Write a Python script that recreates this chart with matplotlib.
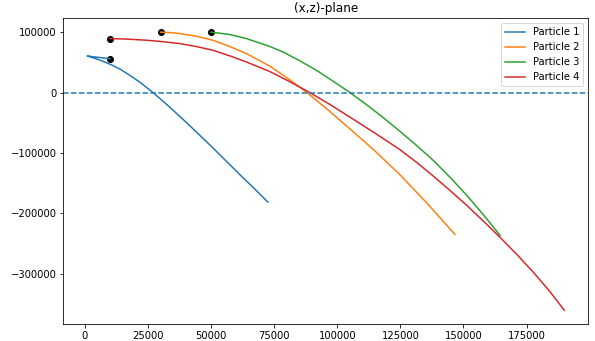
import matplotlib
matplotlib.use("Agg")
import matplotlib.pyplot as plt

# trayectorias (x, z)
x_p1 = [10000, 1000, 3500, 6000, 8500, 11000, 14000, 17700, 22000, 27000, 32000,
        37500, 44000, 50700, 56000, 61300, 67000, 72500]
z_p1 = [56000, 60500, 57300, 53700, 49600, 45000, 38700, 29000, 16500, 0, -18000,
        -39000, -64500, -91500, -113500, -135500, -158500, -181300]

x_p2 = [30000, 33500, 37500, 44000, 50700, 57000, 64000, 73200, 81100, 88000, 96000,
        104900, 114500, 124800, 135500, 146600]
z_p2 = [100000, 99500, 97800, 93500, 86700, 77000, 64600, 44000, 21500, 0, -27500,
        -59700, -95000, -136000, -183000, -234900]

x_p3 = [50000, 57000, 64000, 73200, 78500, 85000, 91700, 98300, 105000, 111600, 118200,
        124800, 131400, 138000, 144600, 151300, 157900, 164500]
z_p3 = [100000, 96500, 89500, 76500, 67300, 53000, 37000, 19000, 0, -20000, -41400,
        -64200, -87500, -112200, -140000, -170200, -202500, -236500]

x_p4 = [10000, 17000, 24300, 30900, 37500, 44100, 50700, 57300, 64000, 73200, 81000,
        89100, 97000, 104900, 114800, 124800, 131400, 138000, 144600, 151300, 157900,
        164500, 171100, 177700, 184000, 190000]
z_p4 = [89500, 88500, 86700, 84300, 81200, 76300, 70100, 61000, 50700, 35000, 18500,
        0, -19500, -40400, -66800, -94500, -115500, -138200, -162000, -186800, -213000,
        -239900, -268000, -297700, -328500, -360900]

# posiciones iniciales (puntos negros)
x_ini = [10000, 30000, 50000, 10000]
z_ini = [56000, 100000, 100000, 89500]

nombres = ["Particle 1", "Particle 2", "Particle 3", "Particle 4"]

fig = plt.figure(figsize=(595 / 72, 341 / 72), dpi=72)
ax = fig.add_axes([0.1067, 0.049, 0.882, 0.8974])

ax.scatter(x_ini, z_ini, color="k", s=36)
ax.plot(x_p1, z_p1, label=nombres[0])
ax.plot(x_p2, z_p2, label=nombres[1])
ax.plot(x_p3, z_p3, label=nombres[2])
ax.plot(x_p4, z_p4, label=nombres[3])
ax.axhline(0, linestyle="--")

ax.set_title("(x,z)-plane")
ax.legend(loc="upper right")

fig.savefig("out.png", dpi=72)
